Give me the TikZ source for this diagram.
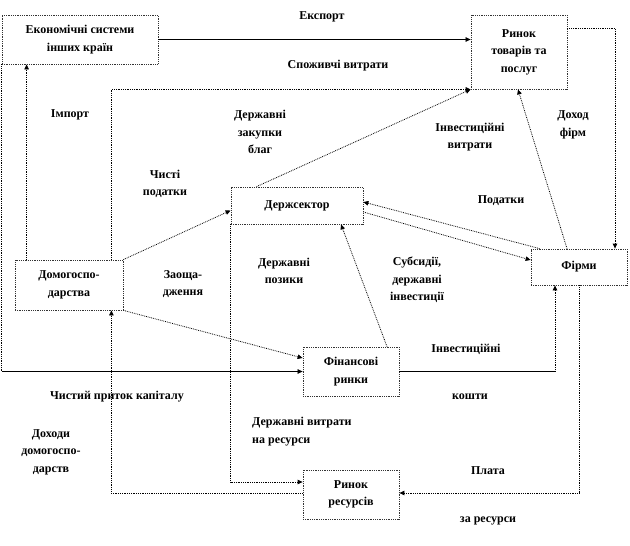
\documentclass[tikz,border=0pt]{standalone}
\usepackage{fontspec}
\setmainfont{Liberation Serif}
\usepackage{tikz}
\usetikzlibrary{positioning,arrows.meta}
\tikzstyle{sector} = [
    rectangle,                 % Shape
    draw=black!80,             % Border color
    densely dotted,            % Border style
    line width=0.8pt,
    inner sep=0pt,
    align=center,              % Centered text
    fill=white,
    font=\fontsize{12}{17.5}\selectfont\bfseries
]
\tikzstyle{lbl} = [inner sep=0pt, align=center, font=\fontsize{12}{17.5}\selectfont\bfseries]
\tikzstyle{flow} = [densely dotted, line width=0.8pt, -{Triangle[length=5pt,width=4.5pt]}]
\tikzstyle{solidflow} = [line width=0.7pt, -{Triangle[length=5pt,width=4.5pt]}]
\tikzstyle{plain} = [densely dotted, line width=0.8pt]

\begin{document}
\begin{tikzpicture}[x=1pt, y=-1pt]
		\useasboundingbox (0,0) rectangle (630,546);

		% Sectors
		\node[sector, minimum width=156, minimum height=49] (abroad) at (80,39.5) {Економічні системи\\інших країн};
		\node[sector, minimum width=96, minimum height=74] (goods) at (519,52) {Ринок\\товарів та\\послуг};
		\node[sector, minimum width=132, minimum height=37] (gov) at (297,205.5) {Держсектор};
		\node[sector, minimum width=96, minimum height=36] (firms) at (579,267) {Фірми};
		\node[sector, minimum width=108, minimum height=50] (house) at (69,285) {Домогоспо-\\дарства};
		\node[sector, minimum width=96, minimum height=49] (finance) at (351,371.5) {Фінансові\\ринки};
		\node[sector, minimum width=96, minimum height=49] (resources) at (351,494.5) {Ринок\\ресурсів};

		% Labels
		\node[lbl] (export) at (322,17) {Експорт};
		\node[lbl] (consume) at (338,66) {Споживчі витрати};
		\node[lbl] (import) at (70,115) {Імпорт};
		\node[lbl] (purchase) at (260,132) {Державні\\закупки\\благ};
		\node[lbl] (nettax) at (165,184) {Чисті\\податки};
		\node[lbl] (invspend) at (470,137) {Інвестиційні\\витрати};
		\node[lbl] (revenue) at (573,125) {Доход\\фірм};
		\node[lbl] (taxes) at (501,201) {Податки};
		\node[lbl] (savings) at (183,284) {Заоща-\\дження};
		\node[lbl] (loans) at (284,271) {Державні\\позики};
		\node[lbl] (subsidy) at (417,280) {Субсидії,\\державні\\інвестиції};
		\node[lbl] (invfunds) at (466,349) {Інвестиційні};
		\node[lbl] (funds) at (470,397) {кошти};
		\node[lbl] (capital) at (117,397) {Чистий приток капіталу};
		\node[lbl] (income) at (51,452) {Доходи\\домогоспо-\\дарств};
		\node[lbl, align=left, anchor=west] (govres) at (252,431.5) {Державні витрати\\на ресурси};
		\node[lbl] (pay) at (488,471) {Плата};
		\node[lbl] (payres) at (488,521) {за ресурси};

		% Arrows
		\draw[solidflow] (abroad.east) -- (goods.west |- abroad.east);
		\draw[flow] ([xshift=12pt]house.north west) -- ([xshift=12pt]house.north west |- abroad.south);
		\draw[flow] ([xshift=-12pt]house.north east) |- (goods.south west);
		\draw[flow] ([xshift=26pt]gov.north west) -- (goods.south west);
		\draw[flow] (house.north east) -- ([yshift=-5pt]gov.west);
		\draw[flow] (house.south east) -- ([yshift=13.5pt]finance.west);

		\coordinate (inflow) at (abroad.south west |- finance.west);
		\draw[plain] (abroad.south west) -- (inflow);
		\draw[solidflow] (inflow) -- (finance.west);

		\draw[flow] (gov.south west) |- ([yshift=12.5pt]resources.west);
		\draw[flow] ([yshift=1.5pt]resources.west) -| ([xshift=-12pt]house.south east);

		\coordinate (invest) at ([xshift=-24pt]firms.south |- finance.east);
		\draw[line width=0.7pt] (finance.east) -- (invest);
		\draw[flow] (invest) -- ([xshift=-24pt]firms.south);

		\draw[flow] (firms.south) |- ([yshift=1.5pt]resources.east);
		\draw[flow] ([yshift=24pt]goods.east) -| ([xshift=36pt]firms.north);
		\draw[flow] ([xshift=-12pt]firms.north) -- ([xshift=-1pt]goods.south);
		\draw[flow] ([yshift=-6.5pt]gov.east) -- ([yshift=7pt]firms.west);
		\draw[flow] ([xshift=9pt]firms.north west) -- ([yshift=3.5pt]gov.east);
		\draw[flow] ([xshift=36pt]finance.north) -- ([xshift=44pt]gov.south);
	\end{tikzpicture}
\end{document}
